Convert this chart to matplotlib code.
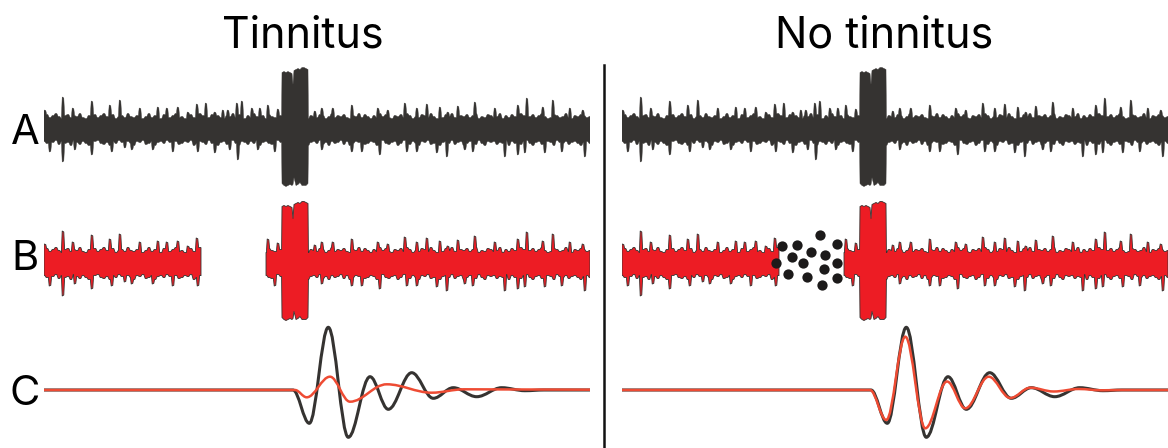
import numpy as np
import matplotlib
matplotlib.use("Agg")
import matplotlib.pyplot as plt
from matplotlib.path import Path
from matplotlib.patches import PathPatch
from matplotlib.lines import Line2D

# ---------------- data (time in samples, amplitude in arbitrary units) ----------------
panel_titles = ["Tinnitus", "No tinnitus"]
row_labels = ["A", "B", "C"]

# ragged edge of the dense noise band, sampled every 3 samples (0..546)
noise_step = 3
noise_base_up = [13, 15, 12, 14, 16, 13, 11, 14, 15, 12,
                 14, 13, 16, 12, 11, 14, 13, 15, 12, 14,
                 16, 13, 12, 15, 11, 13, 14, 12, 16, 13,
                 12, 14, 15, 11, 13, 16, 12, 14, 13, 11,
                 15, 13, 12, 14, 16, 12, 13, 11, 14, 15,
                 12, 13, 16, 14, 11, 12, 15, 13, 14, 12,
                 11, 14, 13, 16, 12, 15, 13, 11, 14, 12,
                 16, 13, 12, 14, 11, 15, 13, 12, 16, 14,
                 12, 11, 13, 15, 14, 12, 16, 13, 11, 14,
                 13, 12, 15, 14, 11, 13, 16, 12, 14, 13,
                 15, 12, 11, 14, 13, 16, 12, 15, 13, 11,
                 14, 12, 16, 13, 15, 12, 11, 14, 13, 15,
                 12, 16, 14, 11, 13, 12, 15, 14, 12, 16,
                 13, 11, 14, 12, 15, 13, 16, 12, 11, 14,
                 13, 15, 12, 14, 16, 11, 13, 12, 15, 14,
                 12, 13, 16, 11, 14, 12, 15, 13, 12, 16,
                 14, 11, 13, 15, 12, 14, 16, 13, 11, 12,
                 15, 14, 12, 13, 16, 12, 11, 14, 13, 15,
                 14, 12, 13]
noise_base_lo = [12, 14, 16, 13, 11, 15, 12, 14, 13, 16,
                 11, 13, 15, 12, 14, 16, 13, 12, 11, 14,
                 15, 13, 16, 12, 14, 11, 13, 15, 12, 14,
                 16, 12, 13, 11, 15, 14, 12, 16, 13, 12,
                 14, 11, 13, 16, 12, 15, 14, 12, 13, 11,
                 16, 14, 12, 13, 15, 11, 14, 12, 16, 13,
                 12, 15, 13, 11, 14, 16, 12, 13, 15, 12,
                 14, 11, 16, 13, 12, 14, 15, 12, 11, 13,
                 16, 14, 12, 15, 13, 11, 14, 12, 16, 13,
                 12, 14, 11, 15, 13, 16, 12, 14, 13, 11,
                 15, 12, 16, 14, 12, 13, 11, 15, 14, 12,
                 13, 16, 12, 11, 14, 15, 13, 12, 16, 14,
                 11, 13, 15, 12, 14, 16, 12, 13, 11, 15,
                 14, 12, 16, 13, 12, 14, 11, 15, 13, 12,
                 16, 14, 12, 13, 15, 11, 14, 16, 12, 13,
                 12, 15, 13, 14, 11, 16, 12, 14, 13, 15,
                 12, 11, 14, 16, 13, 12, 15, 14, 12, 13,
                 16, 11, 13, 14, 12, 15, 13, 12, 14, 16,
                 13, 12, 14]

# upward spikes (time, amplitude)
spike_up_t = [1, 19, 29, 48, 66, 76, 96, 114, 123, 134, 144, 153, 162, 171, 179, 184, 193, 198,
              208, 216, 224, 234, 271, 278, 289, 308, 334, 344, 361, 373, 383, 396, 404, 414,
              431, 451, 474, 483, 499, 509, 526, 539]
spike_up_a = [19.5, 32.5, 21.5, 28.5, 24.5, 29.5, 21.5, 22.5, 21.5, 22.5, 17.5, 25.5, 26.5, 17.5,
              19.5, 19.5, 26.5, 28.5, 21.5, 21.5, 24.5, 20.5, 18.5, 21.5, 21.5, 24.5, 21.5, 19.5,
              26.5, 21.5, 25.5, 22.5, 17.5, 23.5, 27.5, 21.5, 24.5, 31.5, 22.5, 29.5, 21.5, 19.5]
# downward spikes (time, depth)
spike_lo_t = [6, 19, 31, 48, 68, 81, 88, 109, 129, 154, 171, 186, 194, 214, 231, 278, 308, 318,
              336, 363, 373, 393, 403, 421, 429, 461, 474, 481, 501, 518, 541]
spike_lo_a = [22.5, 32.5, 20.5, 25.5, 22.5, 18.5, 20.5, 20.5, 22.5, 22.5, 23.5, 20.5, 30.5, 20.5,
              22.5, 20.5, 22.5, 22.5, 25.5, 22.5, 22.5, 23.5, 27.5, 20.5, 22.5, 27.5, 25.5, 23.5,
              23.5, 22.5, 27.5]

# sound burst (time, top amplitude, bottom depth)
burst_t = [238, 240, 242, 244, 246, 248, 249, 250, 252, 254, 256, 258, 260, 262, 264]
burst_up = [57, 58, 57, 58, 57, 56, 45, 59, 60, 61, 60, 62, 62, 61, 60]
burst_lo = [54, 56, 57, 56, 55, 56, 55, 48, 56, 55, 53, 56, 56, 56, 54]

trace_len = 546
gap_b = (157, 222)          # silent gap in row B

# dots filling the gap (no tinnitus panel)
dots_t = [159.7, 175, 198, 215, 170, 189, 203, 154, 181, 215, 166, 185, 202, 215, 200]
dots_a = [17.5, 18.5, 28.5, 19.5, 6.5, 11.5, 8.5, 0.5, 0.5, 0.5, -10.5, -13.5, -5.5, -14.5, -21.5]

# response waveforms (extrema: time, amplitude)
resp_black_t = [0, 249, 265.3, 284.3, 304.3, 326, 344.3, 367.7, 389.3, 409.3, 432.7, 457.7, 481, 500, 546]
resp_black_a = [0, 0, -33.3, 62.7, -47.3, 13.3, -19.3, 17.3, -8.3, 2.3, -6.7, 2.3, -0.7, 0, 0]

resp_red_tin_t = [0, 251, 262.7, 286, 306, 342.7, 387.7, 420, 546]
resp_red_tin_a = [0, 0, -7.3, 13.3, -11.7, 5.7, -2.7, 0.7, 0.3]

resp_red_no_t = [0, 248, 264.3, 283.3, 303.3, 325, 343.3, 366.7, 388.3, 408.3, 431.7, 456.7, 480, 499, 546]
resp_red_no_a = [0, 0, -30.0, 53.3, -38.3, 8.5, -18.3, 13.3, -8.0, 2.3, -1.5, 1.0, -0.3, 0, 0]

# ---------------- styling ----------------
W, H = 1168, 448
DARK = "#353331"
RED_FILL = "#ED1C24"
RED_LINE = "#EE4B33"
TITLE_FONT = ["Inter", "DejaVu Sans"]

fig = plt.figure(figsize=(W / 100, H / 100), dpi=100)
fig.patch.set_facecolor("white")


def make_axes(x0, x1, yc, lo, hi):
    top = yc - hi
    bottom = yc - lo
    ax = fig.add_axes([x0 / W, (H - bottom) / H, (x1 - x0) / W, (bottom - top) / H])
    ax.set_xlim(0, x1 - x0)
    ax.set_ylim(lo, hi)
    ax.axis("off")
    return ax


def build_edge(base, sp_t, sp_a, b_vals):
    base = np.asarray(base, float)
    tb = np.arange(len(base)) * noise_step
    spans = [(t - 1.6, t + 1.6) for t in sp_t]
    pts = []
    for t, v in zip(tb, base):
        for dt in (-0.8, 0.8):
            tt = t + dt
            if any(a < tt < b for a, b in spans):
                continue
            if burst_t[0] - 0.5 <= tt <= burst_t[-1] + 0.5:
                continue
            pts.append((tt, v))
    for t, a in zip(sp_t, sp_a):
        fl = base[min(len(base) - 1, int(round((t - 1.6) / noise_step)))]
        fr = base[min(len(base) - 1, int(round((t + 1.6) / noise_step)))]
        pts += [(t - 1.6, fl), (t - 0.8, a), (t + 0.8, a * 0.97), (t + 1.6, fr)]
    pts.append((burst_t[0] - 0.4, base[int(burst_t[0] // noise_step)]))
    pts += list(zip(burst_t, b_vals))
    pts.append((burst_t[-1] + 0.4, base[int(burst_t[-1] // noise_step)]))
    pts.sort(key=lambda p: p[0])
    return np.array(pts)


edge_up = build_edge(noise_base_up, spike_up_t, spike_up_a, burst_up)
edge_lo = build_edge(noise_base_lo, spike_lo_t, spike_lo_a, burst_lo)


def segment(edge, ta, tb):
    m = (edge[:, 0] > ta) & (edge[:, 0] < tb)
    t = np.concatenate([[ta], edge[m, 0], [tb]])
    v = np.concatenate([[np.interp(ta, edge[:, 0], edge[:, 1])], edge[m, 1],
                        [np.interp(tb, edge[:, 0], edge[:, 1])]])
    return t, v


def draw_noise(ax, ta, tb, face, edge_c=None, lw=0.0):
    tu, vu = segment(edge_up, ta, tb)
    tl, vl = segment(edge_lo, ta, tb)
    xs = np.concatenate([tu, tl[::-1]])
    ys = np.concatenate([vu, -vl[::-1]])
    ax.fill(xs, ys, facecolor=face, edgecolor=edge_c if edge_c else face,
            linewidth=lw if edge_c else 0.3, joinstyle="round")


def smooth_path(ts, amps):
    verts = [(ts[0], amps[0])]
    codes = [Path.MOVETO]
    for i in range(len(ts) - 1):
        t0, a0, t1, a1 = ts[i], amps[i], ts[i + 1], amps[i + 1]
        dx = t1 - t0
        verts += [(t0 + 0.36 * dx, a0), (t1 - 0.36 * dx, a1), (t1, a1)]
        codes += [Path.CURVE4] * 3
    return Path(verts, codes)


def draw_resp(ax, ts, amps, color, lw):
    ax.add_patch(PathPatch(smooth_path(ts, amps), fill=False, edgecolor=color,
                           linewidth=lw, capstyle="round", joinstyle="round"))


panel_x0 = [44, 622]
rowA_c, rowB_c, rowC_c = 129.5, 263.5, 390.0

for p, x0 in enumerate(panel_x0):
    x1 = x0 + trace_len
    # Row A
    axA = make_axes(x0, x1, rowA_c, -64, 64)
    draw_noise(axA, 0, trace_len, DARK)
    # Row B
    axB = make_axes(x0, x1, rowB_c, -64, 64)
    draw_noise(axB, 0, gap_b[0], RED_FILL, DARK, 0.6)
    draw_noise(axB, gap_b[1], trace_len, RED_FILL, DARK, 0.6)
    if p == 1:
        axB.plot(dots_t, dots_a, "o", color="#1c1a1a", markersize=7.4, markeredgewidth=0,
                 zorder=5)
    # Row C
    axC = make_axes(x0, x1, rowC_c, -58, 66)
    draw_resp(axC, resp_black_t, resp_black_a, DARK, 2.2)
    if p == 0:
        draw_resp(axC, resp_red_tin_t, resp_red_tin_a, RED_LINE, 1.8)
    else:
        draw_resp(axC, resp_red_no_t, resp_red_no_a, RED_LINE, 1.8)

# titles
for title, xc in zip(panel_titles, [303, 884]):
    fig.text(xc / W, (H - 48) / H, title, ha="center", va="baseline",
             fontsize=31, family=TITLE_FONT, color="black")

# row labels
for lab, yc in zip(row_labels, [129, 255, 390]):
    fig.text(25 / W, (H - yc) / H, lab, ha="center", va="center_baseline",
             fontsize=30, family=TITLE_FONT, color="black")

# divider
fig.add_artist(Line2D([604 / W, 604 / W], [0, (H - 65) / H], color="#111111",
                      linewidth=1.8, transform=fig.transFigure))

fig.savefig("out.png", dpi=100)
